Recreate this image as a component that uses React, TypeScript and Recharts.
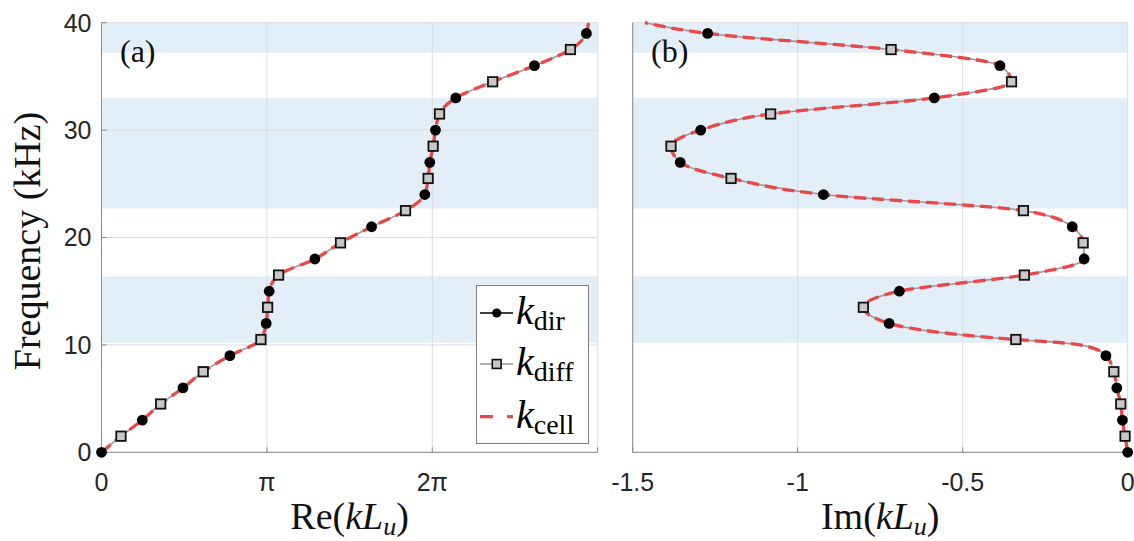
import React from "react";
import { LineChart, Line, XAxis, YAxis, CartesianGrid, ReferenceArea } from "recharts";

const PI = Math.PI;
const W = 1134;
const H = 541;

// marker frequencies (kHz)
const dirFreq = [0, 3, 6, 9, 12, 15, 18, 21, 24, 27, 30, 33, 36, 39];
const diffFreq = [1.5, 4.5, 7.5, 10.5, 13.5, 16.5, 19.5, 22.5, 25.5, 28.5, 31.5, 34.5, 37.5];

// panel (a): Re(kLu)
const reDir = [0, 0.775, 1.547, 2.439, 3.128, 3.185, 4.053, 5.13, 6.141, 6.236, 6.344, 6.729, 8.223, 9.21];
const reDiff = [0.37, 1.124, 1.932, 3.028, 3.155, 3.364, 4.54, 5.775, 6.204, 6.299, 6.42, 7.43, 8.907];
const reCellFreq = [0, 1.5, 3, 4.5, 6, 7.5, 9, 10.5, 12, 13.5, 15, 16.5, 18, 19.5, 21, 22.5, 24, 25.5, 27, 28.5, 30, 31.5, 33, 34.5, 36, 37.5, 39, 40];
const reCell = [0, 0.37, 0.775, 1.124, 1.547, 1.932, 2.439, 3.028, 3.128, 3.155, 3.185, 3.364, 4.053, 4.54, 5.13, 5.775, 6.141, 6.204, 6.236, 6.299, 6.344, 6.42, 6.729, 7.43, 8.223, 8.907, 9.21, 9.25];

// panel (b): Im(kLu)
const imDir = [0, -0.016, -0.033, -0.066, -0.723, -0.692, -0.132, -0.168, -0.922, -1.356, -1.294, -0.586, -0.387, -1.273];
const imDiff = [-0.008, -0.021, -0.042, -0.339, -0.801, -0.313, -0.135, -0.316, -1.202, -1.384, -1.082, -0.352, -0.717];
const imCellFreq = [0, 1.5, 3, 4.5, 6, 7.5, 9, 9.8, 10.2, 10.5, 12, 13.5, 15, 16.5, 18, 19.5, 21, 22.5, 24, 25.5, 27, 28.5, 30, 31.5, 33, 34.5, 36, 37.5, 39, 40];
const imCell = [0, -0.008, -0.016, -0.021, -0.033, -0.042, -0.066, -0.115, -0.2, -0.339, -0.723, -0.801, -0.692, -0.313, -0.132, -0.135, -0.168, -0.316, -0.922, -1.202, -1.356, -1.384, -1.294, -1.082, -0.586, -0.352, -0.387, -0.717, -1.273, -1.463];

// shaded frequency bands (kHz)
const bands = [[10.2, 16.4], [22.7, 33.0], [37.2, 40]];

const reTicks = [0, PI, 2 * PI, 3 * PI];
const imTicks = [-1.5, -1, -0.5, 0];
const freqTicks = [0, 10, 20, 30, 40];

const rows = (fs: number[], vs: number[]) => fs.map((f, i) => ({ f, v: vs[i] }));

const tickFont = { fontSize: 25, fill: "#262626", fontFamily: "'Liberation Sans', Arial, sans-serif" };
const serif = "'Liberation Serif', 'Times New Roman', serif";
const RED = "#ec4647";

const fmtRe = (v: number) => {
  if (Math.abs(v) < 1e-6) return "0";
  if (Math.abs(v - PI) < 1e-6) return "π";
  if (Math.abs(v - 2 * PI) < 1e-6) return "2π";
  return "";
};

const Dot = (p: any) => <circle key={p.index} cx={p.cx} cy={p.cy} r={5.4} fill="#000" />;
const Sq = (p: any) => (
  <rect key={p.index} x={p.cx - 4.7} y={p.cy - 4.7} width={9.4} height={9.4} fill="#c8c8c8" stroke="#111" strokeWidth={1.8} />
);

function Panel({ dir, diff, cell, domain, ticks, fmt, yLabels, width, margin }: any) {
  return (
    <LineChart layout="vertical" width={width} height={H} margin={margin}>
      {bands.map(([a, b]) => (
        <ReferenceArea key={a} y1={a} y2={b} fill="#e2eef8" fillOpacity={1} stroke="none" zIndex={-200} />
      ))}
      <CartesianGrid stroke="#dcdcdc" />
      <XAxis
        type="number" domain={domain} ticks={ticks} tickFormatter={fmt} tick={tickFont}
        stroke="#8a8a8a" tickSize={-5} tickMargin={26} height={40} interval={0}
      />
      <YAxis
        type="number" dataKey="f" domain={[0, 40]} ticks={freqTicks} tick={yLabels ? tickFont : false}
        stroke="#8a8a8a" tickSize={-5} tickMargin={15} width={yLabels ? 40 : 12} interval={0} reversed
      />
      <Line data={cell} dataKey="v" type="monotone" stroke="#999" strokeWidth={1.6} dot={false} isAnimationActive={false} />
      <Line data={dir} dataKey="v" stroke="none" dot={Dot} isAnimationActive={false} />
      <Line data={diff} dataKey="v" stroke="none" dot={Sq} isAnimationActive={false} />
      <Line data={cell} dataKey="v" type="monotone" stroke={RED} strokeWidth={3.3} strokeDasharray="12 6" dot={false} isAnimationActive={false} />
    </LineChart>
  );
}

export default function App() {
  return (
    <div style={{ position: "absolute", left: 0, top: 0, width: W, height: H, background: "#fff" }}>
      <div style={{ position: "absolute", left: 0, top: 0 }}>
        <Panel
          dir={rows(dirFreq, reDir)} diff={rows(diffFreq, reDiff)} cell={rows(reCellFreq, reCell)}
          domain={[0, 3 * PI]} ticks={reTicks} fmt={fmtRe} yLabels width={610}
          margin={{ top: 22.7, right: 12.3, bottom: 48.7, left: 61.5 }}
        />
      </div>
      <div style={{ position: "absolute", left: 598, top: 0 }}>
        <Panel
          dir={rows(dirFreq, imDir)} diff={rows(diffFreq, imDiff)} cell={rows(imCellFreq, imCell)}
          domain={[-1.5, 0]} ticks={imTicks} fmt={(v: number) => String(v)} yLabels={false} width={536}
          margin={{ top: 22.7, right: 6.3, bottom: 48.7, left: 22.7 }}
        />
      </div>
      <svg width={W} height={H} style={{ position: "absolute", left: 0, top: 0, pointerEvents: "none" }}>
        <g style={{ fontFamily: serif }} fill="#111">
          <text x={120} y={62} fontSize={32}>(a)</text>
          <text x={651} y={62} fontSize={32}>(b)</text>
          <text transform="translate(40,241) rotate(-90)" textAnchor="middle" fontSize={38}>Frequency (kHz)</text>
          <text x={349.6} y={529} textAnchor="middle" fontSize={38}>
            Re(<tspan fontStyle="italic">kL</tspan>
            <tspan fontStyle="italic" fontSize={26} dy={6}>u</tspan>
            <tspan dy={-6}>)</tspan>
          </text>
          <text x={880.2} y={529} textAnchor="middle" fontSize={38}>
            Im(<tspan fontStyle="italic">kL</tspan>
            <tspan fontStyle="italic" fontSize={26} dy={6}>u</tspan>
            <tspan dy={-6}>)</tspan>
          </text>
        </g>
        <g>
          <rect x={476.5} y={285.5} width={112} height={158} fill="#fff" stroke="#7f7f7f" strokeWidth={1} />
          <line x1={480} x2={513} y1={313} y2={313} stroke="#000" strokeWidth={1.5} />
          <circle cx={496.7} cy={313} r={4.6} fill="#000" />
          <line x1={480} x2={513} y1={364} y2={364} stroke="#999" strokeWidth={1.6} />
          <rect x={492.3} y={359.6} width={8.8} height={8.8} fill="#c8c8c8" stroke="#111" strokeWidth={1.6} />
          <line x1={480} x2={513} y1={416.7} y2={416.7} stroke={RED} strokeWidth={3.3} strokeDasharray="13 14" />
          <g style={{ fontFamily: serif }} fill="#000">
            <text x={516} y={324}>
              <tspan fontStyle="italic" fontSize={40}>k</tspan>
              <tspan fontSize={28} dy={6}>dir</tspan>
            </text>
            <text x={516} y={375}>
              <tspan fontStyle="italic" fontSize={40}>k</tspan>
              <tspan fontSize={28} dy={6}>diff</tspan>
            </text>
            <text x={516} y={427.7}>
              <tspan fontStyle="italic" fontSize={40}>k</tspan>
              <tspan fontSize={28} dy={6}>cell</tspan>
            </text>
          </g>
        </g>
      </svg>
    </div>
  );
}
